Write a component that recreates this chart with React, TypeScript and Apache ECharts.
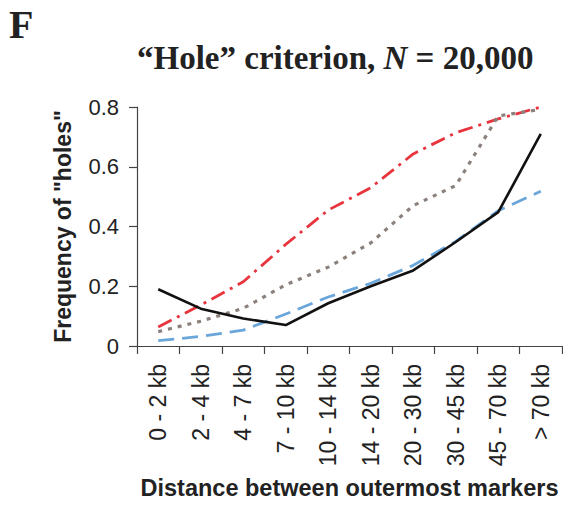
import React, { useEffect, useRef } from "react";
import * as echarts from "echarts";

const categories = ["0 - 2 kb", "2 - 4 kb", "4 - 7 kb", "7 - 10 kb", "10 - 14 kb", "14 - 20 kb", "20 - 30 kb", "30 - 45 kb", "45 - 70 kb", "> 70 kb"];
const solidBlack = [0.19, 0.125, 0.092, 0.07, 0.143, 0.2, 0.253, 0.348, 0.448, 0.71];
const redDashDot = [0.064, 0.137, 0.215, 0.34, 0.455, 0.53, 0.643, 0.714, 0.76, 0.8];
const grayDotted = [0.048, 0.083, 0.126, 0.205, 0.264, 0.345, 0.47, 0.537, 0.77, 0.792];
const blueDashed = [0.018, 0.032, 0.053, 0.107, 0.164, 0.21, 0.27, 0.35, 0.453, 0.518];
const yTicks = [0, 0.2, 0.4, 0.6, 0.8];

const sans = "'Liberation Sans', Arial, sans-serif";
const serif = "'Liberation Serif', 'Times New Roman', serif";

export default function App() {
  const ref = useRef<HTMLDivElement>(null);
  useEffect(() => {
    if (!ref.current) return;
    const chart = echarts.init(ref.current, null, { renderer: "svg" });
    const mk = (name: string, data: number[], color: string, type: any, width: number) => ({
      name,
      type: "line",
      data,
      symbol: "none",
      clip: false,
      lineStyle: { color, width, type, cap: "butt" },
    });
    chart.setOption({
      animation: false,
      backgroundColor: "#ffffff",
      title: {
        text: "{q|\u201CHole\u201D criterion, }{i|N}{q| = 20,000}",
        left: 132,
        top: 36,
        textStyle: {
          rich: {
            q: { fontFamily: serif, fontWeight: "bold", fontSize: 33, color: "#222" },
            i: { fontFamily: serif, fontWeight: "bold", fontStyle: "italic", fontSize: 33, color: "#222" },
          },
        },
      },
      graphic: [
        {
          type: "text",
          left: 9,
          top: 4,
          style: { text: "F", font: `bold 40px ${serif}`, fill: "#222" },
        },
      ],
      grid: { left: 137, right: 1, top: 107, bottom: 162 },
      xAxis: {
        type: "category",
        data: categories,
        boundaryGap: true,
        name: "Distance between outermost markers",
        nameLocation: "middle",
        nameGap: 130,
        nameTextStyle: { fontFamily: sans, fontWeight: "bold", fontSize: 23.5, color: "#222" },
        axisLine: { lineStyle: { color: "#444", width: 1.2 } },
        axisTick: { show: true, length: 8, lineStyle: { color: "#444", width: 1.2 } },
        axisLabel: {
          rotate: 90,
          margin: 18,
          fontFamily: sans,
          fontSize: 23,
          color: "#222",
          interval: 0,
        },
        splitLine: { show: false },
      },
      yAxis: {
        type: "value",
        min: 0,
        max: 0.8,
        interval: 0.2,
        name: "Frequency of \"holes\"",
        nameLocation: "middle",
        nameGap: 63,
        nameTextStyle: { fontFamily: sans, fontWeight: "bold", fontSize: 23, color: "#222" },
        axisLine: { show: true, lineStyle: { color: "#444", width: 1.2 } },
        axisTick: { show: true, length: 8, lineStyle: { color: "#444", width: 1.2 } },
        axisLabel: {
          margin: 18,
          fontFamily: sans,
          fontSize: 22,
          color: "#222",
          formatter: (v: number) => (yTicks.includes(Math.round(v * 10) / 10) ? (v === 0 ? "0" : v.toFixed(1)) : ""),
        },
        splitLine: { show: false },
      },
      series: [
        mk("red", redDashDot, "#e8343c", [15, 6, 3, 6], 2.8),
        mk("gray", grayDotted, "#8a807c", [4, 6], 3.2),
        mk("blue", blueDashed, "#6aa6d9", [16, 8], 2.8),
        mk("black", solidBlack, "#111111", "solid", 2.6),
      ],
    });
    return () => chart.dispose();
  }, []);
  return <div ref={ref} style={{ position: "absolute", left: 0, top: 0, width: 563, height: 508 }} />;
}
